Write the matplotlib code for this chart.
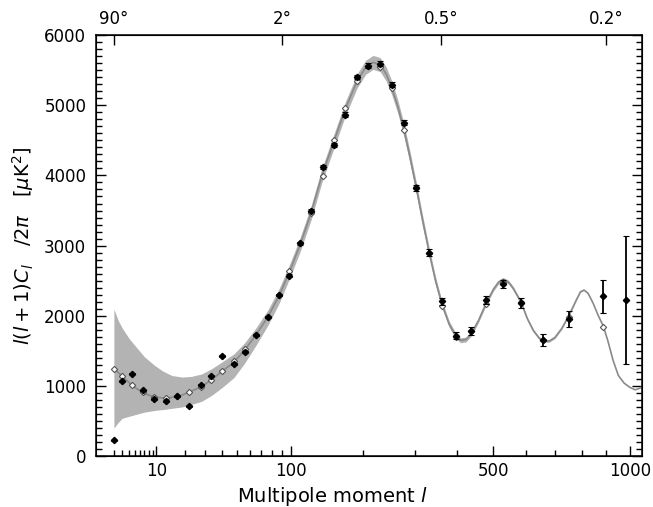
import numpy as np
import matplotlib.pyplot as plt
from matplotlib.ticker import MultipleLocator

plt.rcParams['font.family'] = ['DejaVu Sans']
plt.rcParams['mathtext.fontset'] = 'dejavusans'

# best-fit model spectrum, with the grey band offsets below/above it
model_l = [2, 2.5, 3, 4, 5, 7, 9.6, 12, 15, 19, 23, 28, 33.5, 40, 48, 56, 65, 76, 87, 98,
           110, 124, 138, 155, 172, 191, 205, 218, 231, 242, 253, 265, 277, 290, 303, 317,
           332, 347, 362, 380, 396, 409, 423, 437, 457, 478, 500, 515, 529, 545, 560, 585,
           605, 625, 645, 665, 680, 700, 725, 751, 780, 795, 809, 825, 845, 865, 887, 905,
           928, 950, 975, 1000, 1024, 1045, 1060]
model_v = [1247, 1190, 1137, 1050, 980, 890, 840, 828, 835, 870, 925, 990, 1090, 1209, 1340,
           1510, 1720, 1980, 2280, 2620, 3000, 3470, 4000, 4490, 4950, 5350, 5540, 5612, 5580,
           5450, 5250, 4980, 4660, 4260, 3840, 3370, 2910, 2500, 2170, 1880, 1720, 1650, 1660,
           1740, 1930, 2170, 2380, 2480, 2517, 2480, 2390, 2190, 1960, 1790, 1680, 1640, 1640,
           1690, 1820, 2000, 2230, 2340, 2366, 2320, 2180, 2010, 1850, 1650, 1361, 1150, 1040,
           980, 944, 965, 1000]
band_dn = [849, 710, 600, 485, 392, 265, 190, 166, 155, 170, 190, 210, 225, 230, 220,
           185, 150, 120, 110, 100, 100, 100, 100, 100, 100, 100, 100, 100, 100,
           100, 100, 95, 90, 85, 80, 75, 70, 60, 50, 45, 40, 35, 35,
           32, 30, 30, 28, 28, 28, 27, 26, 24, 22, 21, 20, 19, 18,
           16, 14, 12, 10, 8, 6, 4, 2, 0, 0, 0, 0, 0, 0,
           0, 0, 0, 0]
band_up = [849, 740, 690, 630, 600, 525, 450, 382, 312, 255, 210, 180, 155, 135, 118,
           105, 100, 100, 100, 100, 100, 100, 100, 100, 100, 100, 100, 100, 100,
           100, 100, 95, 90, 85, 80, 75, 70, 60, 50, 45, 40, 35, 35,
           32, 30, 30, 28, 28, 28, 27, 26, 24, 22, 21, 20, 19, 18,
           16, 14, 12, 10, 8, 6, 4, 2, 0, 0, 0, 0, 0, 0,
           0, 0, 0, 0]

# binned measurements
data_l = [2, 3, 4.5, 6.6, 9.5, 12.9, 16.9, 22, 27.5, 33, 40, 48, 56, 65, 76, 87, 98, 110.5,
          123.5, 139, 155, 171.6, 190.9, 209.7, 230.6, 253.4, 277.4, 303.5, 331.8, 363.4,
          396.4, 436.6, 478, 527.5, 584.5, 657.9, 750.6, 886.6, 983.4]
data_v = [223, 1066, 1172, 934, 806, 782, 849, 707, 1019, 1147, 1428, 1314, 1479, 1730, 1986,
          2295, 2569, 3034, 3500, 4119, 4432, 4868, 5403, 5565, 5594, 5295, 4755, 3825, 2901,
          2204, 1712, 1787, 2228, 2451, 2181, 1655, 1953, 2275, 2224]
data_err = [8, 8, 8, 8, 8, 8, 8, 8, 8, 8, 10, 10, 12, 14, 15, 18, 20, 22, 24, 25,
            28, 30, 32, 35, 38, 40, 42, 45, 48, 50, 50, 55, 60, 60, 70, 80, 120, 240, 910]

# model averaged over the same bins (open diamonds)
mbin_l = data_l[:-1]
mbin_v = [1247, 1137, 1010, 906, 839, 830, 850, 910, 981, 1086, 1209, 1361, 1527, 1720, 1980,
          2290, 2631, 3030, 3470, 3996, 4499, 4962, 5352, 5560, 5551, 5247, 4645, 3830, 2900,
          2138, 1700, 1780, 2167, 2480, 2200, 1660, 1980, 1834]

xticks_major = [10, 100, 500, 1000]
xticks_minor = [2, 3, 4, 5, 6, 7, 8, 9, 20, 30, 40, 50, 60, 70, 80, 90,
                200, 300, 400, 600, 700, 800, 900]
top_ticks = [2, 90, 360, 900]
top_labels = ['90°', '2°', '0.5°', '0.2°']


def fwd(x):
    return np.sign(x) * np.abs(x) ** 0.4


def inv(x):
    return np.sign(x) * np.abs(x) ** 2.5


fig = plt.figure(figsize=(6.53, 5.07), dpi=100)
ax = fig.add_axes([0.147, 0.1006, 0.836, 0.830])
ax.set_xscale('function', functions=(fwd, inv))

mv = np.array(model_v)
ax.fill_between(model_l, mv - np.array(band_dn), mv + np.array(band_up),
                color='#b3b3b3', lw=0, zorder=1)
ax.plot(model_l, model_v, color='#8a8a8a', lw=1.2, zorder=2)
ax.plot(mbin_l, mbin_v, 'D', ms=3.2, mfc='white', mec='#555555', mew=0.8, zorder=3)
ax.errorbar(data_l, data_v, yerr=data_err, fmt='D', ms=3.2, color='black',
            ecolor='black', elinewidth=1.3, capsize=2.5, capthick=0.8, zorder=4)

ax.set_xlim(0.6, 1055)
ax.set_ylim(0, 6000)
ax.set_xticks(xticks_major)
ax.set_xticklabels([str(t) for t in xticks_major])
ax.set_xticks(xticks_minor, minor=True)
ax.yaxis.set_major_locator(MultipleLocator(1000))
ax.yaxis.set_minor_locator(MultipleLocator(100))
ax.tick_params(which='both', direction='in', top=False, right=True, labelsize=12, width=1)
ax.tick_params(which='major', length=7)
ax.tick_params(which='minor', length=4)
ax.tick_params(axis='y', which='major', pad=7)
ax.tick_params(axis='x', which='major', pad=4)
for s in ax.spines.values():
    s.set_linewidth(1.1)

ax.set_xlabel('Multipole moment $l$', fontsize=14, labelpad=1)
ax.xaxis.set_label_coords(0.434, -0.07)
ax.set_ylabel(r'$l(l+1)C_l\quad/2\pi\quad[\mu\mathrm{K}^2]$', fontsize=14, labelpad=6)

ax2 = ax.twiny()
ax2.set_xscale('function', functions=(fwd, inv))
ax2.set_xlim(ax.get_xlim())
ax2.set_xticks(top_ticks)
ax2.set_xticklabels(top_labels)
ax2.tick_params(direction='in', length=7, width=1, labelsize=12, pad=5)

fig.savefig('out.png', dpi=100)
